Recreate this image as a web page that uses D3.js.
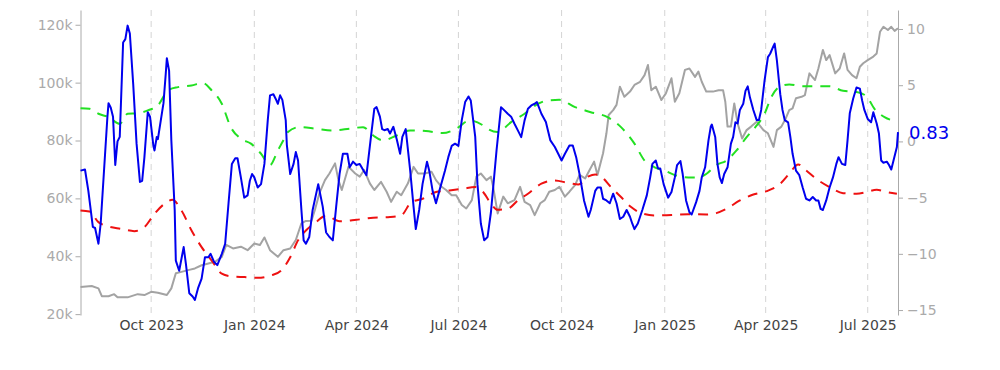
<!DOCTYPE html>
<html>
<head>
<meta charset="utf-8">
<script src="https://cdn.jsdelivr.net/npm/d3@7"></script>
<style>
  body { margin: 0; background: #fff; }
  svg text { font-family: "DejaVu Sans", Verdana, sans-serif; }
</style>
</head>
<body>
<div id="chart"></div>
<script>
// BTC price (left axis)
const priceSeries = [
  ["2023-07-30",29400],["2023-08-09",29700],["2023-08-15",28900],["2023-08-18",26200],["2023-08-24",26200],["2023-08-29",26900],["2023-09-01",25800],["2023-09-10",25800],["2023-09-19",26900],["2023-09-25",26600],["2023-10-01",27700],["2023-10-07",27400],["2023-10-15",26600],["2023-10-19",28900],["2023-10-23",34100],["2023-10-28",34600],["2023-11-03",35200],["2023-11-09",35800],["2023-11-15",36900],["2023-11-21",37500],["2023-11-27",38100],["2023-12-03",39800],["2023-12-07",43900],["2023-12-13",42700],["2023-12-20",43300],["2023-12-26",42100],
  ["2024-01-01",44400],["2024-01-06",43900],["2024-01-10",46500],["2024-01-15",42100],["2024-01-22",39800],["2024-01-27",42100],["2024-02-02",42700],["2024-02-07",45600],["2024-02-12",51400],["2024-02-16",52200],["2024-02-21",52300],["2024-02-24",56000],["2024-02-28",61700],["2024-03-04",66300],["2024-03-08",68600],["2024-03-13",72100],["2024-03-16",66300],["2024-03-19",62900],["2024-03-25",70900],["2024-03-31",68600],["2024-04-04",67500],["2024-04-08",69800],["2024-04-13",65200],["2024-04-17",62900],["2024-04-23",65700],["2024-04-28",62300],["2024-05-02",58800],["2024-05-07",62300],["2024-05-11",61100],["2024-05-17",65200],["2024-05-22",70900],["2024-05-26",68600],["2024-06-01",68600],["2024-06-07",69200],["2024-06-11",66300],["2024-06-16",64000],["2024-06-20",62900],["2024-06-25",61100],["2024-06-29",61100],["2024-07-04",57700],["2024-07-08",56500],["2024-07-13",59400],["2024-07-17",67500],["2024-07-21",68600],["2024-07-26",66300],["2024-07-30",67500],
  ["2024-08-01",64000],["2024-08-05",54800],["2024-08-10",60600],["2024-08-14",58300],["2024-08-20",59400],["2024-08-25",64000],["2024-08-29",58800],["2024-09-03",57700],["2024-09-07",54200],["2024-09-12",58300],["2024-09-16",59400],["2024-09-20",62300],["2024-09-25",62900],["2024-09-29",64000],["2024-10-04",60600],["2024-10-08",62300],["2024-10-13",64600],["2024-10-17",68100],["2024-10-22",66900],["2024-10-26",69800],["2024-10-30",72700],["2024-11-02",68100],["2024-11-07",75600],["2024-11-10",82500],["2024-11-12",88800],["2024-11-16",90500],["2024-11-19",92300],["2024-11-22",98600],["2024-11-26",95100],["2024-12-01",96900],["2024-12-05",99200],["2024-12-10",100300],["2024-12-14",102600],["2024-12-17",106100],["2024-12-20",97400],["2024-12-24",98600],["2024-12-29",94000],
  ["2025-01-02",96300],["2025-01-07",101500],["2025-01-10",93400],["2025-01-14",96300],["2025-01-19",104400],["2025-01-23",104900],["2025-01-28",102000],["2025-01-31",103800],["2025-02-03",100300],["2025-02-07",96900],["2025-02-13",96900],["2025-02-18",97400],["2025-02-22",97400],["2025-02-24",93400],["2025-02-26",84800],["2025-03-01",84800],["2025-03-04",92800],["2025-03-07",85900],["2025-03-11",80700],["2025-03-15",83600],["2025-03-19",84800],["2025-03-24",86500],["2025-03-30",83600],["2025-04-03",82500],["2025-04-08",77800],["2025-04-11",83600],["2025-04-15",84800],["2025-04-19",87700],["2025-04-22",90500],["2025-04-25",91100],["2025-04-28",94600],["2025-05-03",95100],["2025-05-06",95700],["2025-05-10",103200],["2025-05-15",100900],["2025-05-18",104900],["2025-05-22",111300],["2025-05-25",107800],["2025-05-28",109500],["2025-06-02",103200],["2025-06-06",104900],["2025-06-10",110100],["2025-06-13",104400],["2025-06-17",102600],["2025-06-21",101500],["2025-06-24",105500],["2025-06-27",106700],["2025-07-01",107800],["2025-07-06",109000],["2025-07-09",110100],["2025-07-12",117600],["2025-07-15",119300],["2025-07-19",118200],["2025-07-22",119300],["2025-07-25",117900],["2025-07-28",118800]
];

// oscillator (right axis)
const oscSeries = [
  ["2023-07-30",-2.6],["2023-08-03",-2.5],["2023-08-06",-4.4],["2023-08-10",-7.6],["2023-08-12",-7.7],["2023-08-15",-9.1],["2023-08-17",-7.3],["2023-08-23",2.2],["2023-08-24",3.4],["2023-08-26",3.0],["2023-08-28",2.2],["2023-08-30",-2.1],["2023-09-01",0.0],["2023-09-03",0.4],["2023-09-06",8.8],["2023-09-08",9.1],["2023-09-10",10.3],["2023-09-12",9.6],["2023-09-15",5.1],["2023-09-18",-0.2],["2023-09-21",-3.6],["2023-09-23",-3.5],["2023-09-25",-1.4],["2023-09-28",2.6],["2023-09-30",2.2],
  ["2023-10-03",-0.4],["2023-10-04",-0.8],["2023-10-06",0.4],["2023-10-07",0.2],["2023-10-12",3.4],["2023-10-14",6.0],["2023-10-15",7.4],["2023-10-17",6.3],["2023-10-19",0.1],["2023-10-22",-6.1],["2023-10-23",-10.6],["2023-10-26",-11.5],["2023-10-30",-9.4],["2023-11-01",-10.9],["2023-11-04",-13.5],["2023-11-07",-13.8],["2023-11-09",-14.1],["2023-11-12",-13.0],["2023-11-15",-12.2],["2023-11-18",-10.3],["2023-11-21",-10.3],["2023-11-23",-10.0],["2023-11-26",-10.7],["2023-11-29",-11.0],["2023-12-03",-10.0],["2023-12-06",-9.1],["2023-12-09",-5.5],["2023-12-12",-2.0],["2023-12-15",-1.5],["2023-12-17",-1.5],["2023-12-20",-3.2],["2023-12-23",-5.0],["2023-12-26",-4.8],["2023-12-28",-3.5],["2023-12-30",-2.9],
  ["2024-01-01",-3.2],["2024-01-04",-4.1],["2024-01-07",-3.8],["2024-01-10",-2.0],["2024-01-13",1.9],["2024-01-15",4.1],["2024-01-18",4.2],["2024-01-20",3.8],["2024-01-22",3.35],["2024-01-24",4.1],["2024-01-26",3.7],["2024-01-29",1.9],["2024-01-30",-0.3],["2024-02-02",-2.9],["2024-02-05",-2.0],["2024-02-07",-0.95],["2024-02-09",-1.7],["2024-02-12",-6.1],["2024-02-14",-8.8],["2024-02-16",-9.1],["2024-02-19",-8.5],["2024-02-22",-6.1],["2024-02-27",-3.8],["2024-03-02",-5.8],["2024-03-05",-8.1],["2024-03-08",-8.5],["2024-03-11",-8.8],["2024-03-14",-5.8],["2024-03-17",-2.9],["2024-03-20",-1.1],["2024-03-24",-1.1],["2024-03-26",-2.3],["2024-03-29",-1.8],
  ["2024-04-01",-2.1],["2024-04-04",-2.0],["2024-04-08",-2.7],["2024-04-10",-3.0],["2024-04-14",0.4],["2024-04-17",2.9],["2024-04-19",3.05],["2024-04-22",2.2],["2024-04-24",1.1],["2024-04-26",1.0],["2024-04-29",1.1],["2024-05-01",0.7],["2024-05-04",1.3],["2024-05-07",0.2],["2024-05-10",-1.1],["2024-05-12",0.4],["2024-05-15",1.1],["2024-05-19",-2.6],["2024-05-22",-5.8],["2024-05-24",-7.8],["2024-05-27",-6.1],["2024-05-30",-3.8],["2024-06-03",-1.8],["2024-06-05",-2.6],["2024-06-08",-4.4],["2024-06-11",-5.5],["2024-06-14",-4.4],["2024-06-19",-2.6],["2024-06-22",-1.4],["2024-06-25",-0.4],["2024-06-28",-0.2],
  ["2024-07-01",-0.4],["2024-07-04",1.9],["2024-07-07",3.5],["2024-07-10",4.0],["2024-07-12",3.65],["2024-07-16",0.4],["2024-07-18",-3.8],["2024-07-21",-7.3],["2024-07-24",-8.8],["2024-07-27",-8.5],["2024-07-30",-6.3],["2024-08-04",-0.8],["2024-08-08",3.05],["2024-08-11",2.76],["2024-08-14",2.46],["2024-08-17",2.2],["2024-08-20",1.57],["2024-08-23",0.98],["2024-08-26",0.38],["2024-08-29",1.87],["2024-09-01",2.9],["2024-09-04",3.2],["2024-09-07",3.35],["2024-09-09",3.5],["2024-09-13",2.46],["2024-09-17",1.72],["2024-09-21",0.09],["2024-09-25",-0.5],["2024-09-28",-1.1],
  ["2024-10-01",-1.7],["2024-10-04",-1.1],["2024-10-08",-0.36],["2024-10-11",-0.36],["2024-10-14",-1.4],["2024-10-17",-2.9],["2024-10-21",-5.25],["2024-10-25",-6.7],["2024-10-27",-6.1],["2024-10-31",-4.4],["2024-11-02",-4.1],["2024-11-05",-4.1],["2024-11-07",-5.1],["2024-11-10",-5.25],["2024-11-13",-5.5],["2024-11-16",-4.65],["2024-11-19",-5.5],["2024-11-22",-6.9],["2024-11-25",-6.7],["2024-11-28",-6.1],["2024-12-01",-6.7],["2024-12-03",-7.3],["2024-12-05",-7.8],["2024-12-08",-7.3],["2024-12-12",-6.1],["2024-12-16",-4.8],["2024-12-19",-3.2],["2024-12-21",-2.0],["2024-12-24",-1.7],["2024-12-26",-2.4],["2024-12-28",-2.4],["2024-12-31",-3.8],
  ["2025-01-04",-5.0],["2025-01-07",-4.5],["2025-01-10",-3.2],["2025-01-12",-2.1],["2025-01-15",-1.75],["2025-01-17",-2.9],["2025-01-20",-5.25],["2025-01-23",-6.3],["2025-01-25",-6.5],["2025-01-29",-5.4],["2025-02-01",-4.4],["2025-02-03",-3.2],["2025-02-06",-2.3],["2025-02-09",0.1],["2025-02-11",1.3],["2025-02-12",1.5],["2025-02-15",0.4],["2025-02-17",-2.0],["2025-02-19",-3.2],["2025-02-21",-3.7],["2025-02-23",-2.9],["2025-02-26",-2.3],["2025-03-01",-0.2],["2025-03-03",0.4],["2025-03-05",1.7],["2025-03-07",1.6],["2025-03-09",2.8],["2025-03-12",3.35],["2025-03-14",4.5],["2025-03-16",4.9],["2025-03-18",3.9],["2025-03-21",2.8],["2025-03-24",1.9],["2025-03-26",1.9],["2025-03-28",2.8],["2025-03-31",5.4],
  ["2025-04-03",7.5],["2025-04-05",7.8],["2025-04-08",8.5],["2025-04-09",8.7],["2025-04-11",7.2],["2025-04-14",4.2],["2025-04-16",2.8],["2025-04-18",1.9],["2025-04-21",1.7],["2025-04-23",0.4],["2025-04-25",-1.1],["2025-04-28",-2.6],["2025-05-01",-3.0],["2025-05-04",-4.1],["2025-05-07",-5.1],["2025-05-10",-5.25],["2025-05-13",-4.95],["2025-05-16",-5.25],["2025-05-18",-5.25],["2025-05-20",-6.0],["2025-05-22",-6.1],["2025-05-25",-5.25],["2025-05-28",-4.1],["2025-05-31",-3.2],["2025-06-03",-2.0],["2025-06-05",-1.4],["2025-06-08",-2.0],["2025-06-11",-2.1],["2025-06-13",0.1],["2025-06-15",2.5],["2025-06-18",3.8],["2025-06-21",4.8],["2025-06-24",4.7],["2025-06-26",3.65],["2025-06-28",2.8],
  ["2025-07-01",2.0],["2025-07-04",1.7],["2025-07-06",2.6],["2025-07-09",1.6],["2025-07-11",0.7],["2025-07-13",-1.7],["2025-07-15",-1.9],["2025-07-18",-1.8],["2025-07-20",-2.1],["2025-07-22",-2.5],["2025-07-24",-1.7],["2025-07-27",-0.5],["2025-07-28",0.83]
];

// upper band (green dashed, right axis)
const upperBand = [
  ["2023-07-30",2.96],["2023-08-07",2.9],["2023-08-15",2.46],["2023-08-24",2.16],["2023-09-03",1.57],["2023-09-10",2.46],["2023-09-19",2.5],["2023-09-28",2.76],["2023-10-07",3.2],["2023-10-16",4.54],["2023-10-25",4.83],["2023-11-06",4.98],["2023-11-16",5.19],["2023-11-24",4.54],["2023-12-03",3.35],["2023-12-11",1.27],["2023-12-20",0.24],["2023-12-29",-0.2],
  ["2024-01-07",-1.1],["2024-01-15",-2.1],["2024-01-22",-0.8],["2024-01-28",0.3],["2024-01-31",0.83],["2024-02-10",1.27],["2024-02-25",1.13],["2024-03-11",0.98],["2024-03-26",1.13],["2024-04-07",1.27],["2024-04-16",0.53],["2024-04-25",0.09],["2024-05-07",0.53],["2024-05-19",0.98],["2024-06-02",0.92],["2024-06-17",0.74],["2024-06-29",1.13],["2024-07-11",1.87],["2024-07-23",1.42],["2024-07-27",1.13],["2024-08-05",0.83],["2024-08-17",1.72],["2024-08-29",2.46],["2024-09-10",3.35],["2024-09-19",3.65],["2024-09-29",3.7],["2024-10-13",3.05],["2024-10-27",2.6],["2024-11-11",2.16],["2024-11-23",1.27],["2024-12-05",-0.2],["2024-12-14",-1.7],["2024-12-23",-2.3],
  ["2025-01-01",-2.6],["2025-01-10",-3.0],["2025-01-22",-3.2],["2025-01-31",-3.2],["2025-02-07",-2.9],["2025-02-16",-2.1],["2025-02-25",-1.7],["2025-03-06",-0.8],["2025-03-15",0.38],["2025-03-24",1.42],["2025-03-31",2.46],["2025-04-06",3.94],["2025-04-14",4.9],["2025-04-22",5.07],["2025-05-04",4.9],["2025-05-16",4.9],["2025-05-28",4.9],["2025-06-09",4.5],["2025-06-21",4.4],["2025-06-30",4.0],["2025-07-07",2.9],["2025-07-16",2.16],["2025-07-27",1.8]
];

// lower band (red dashed, right axis)
const lowerBand = [
  ["2023-07-30",-6.14],["2023-08-07",-6.23],["2023-08-15",-7.18],["2023-08-24",-7.56],["2023-09-04",-7.77],["2023-09-16",-7.98],["2023-09-25",-7.62],["2023-10-04",-6.43],["2023-10-13",-5.54],["2023-10-20",-5.19],["2023-10-28",-6.14],["2023-11-06",-7.92],["2023-11-15",-9.4],["2023-11-24",-10.6],["2023-12-03",-11.77],["2023-12-11",-12.0],["2023-12-23",-12.07],
  ["2024-01-04",-12.13],["2024-01-16",-11.92],["2024-01-25",-11.48],["2024-02-02",-10.3],["2024-02-09",-8.8],["2024-02-16",-7.92],["2024-02-25",-7.18],["2024-03-05",-6.6],["2024-03-17",-7.1],["2024-04-01",-6.97],["2024-04-16",-6.79],["2024-05-01",-6.73],["2024-05-11",-6.58],["2024-05-20",-5.4],["2024-05-30",-5.1],["2024-06-11",-4.5],["2024-06-23",-4.36],["2024-07-05",-4.21],["2024-07-16",-4.06],["2024-07-23",-4.5],["2024-07-30",-5.54],["2024-08-05",-6.08],["2024-08-14",-5.99],["2024-08-23",-5.25],["2024-09-01",-4.65],["2024-09-13",-3.76],["2024-09-25",-3.47],["2024-10-07",-3.7],["2024-10-16",-3.83],["2024-10-25",-3.11],["2024-10-31",-2.94],["2024-11-05",-3.11],["2024-11-14",-4.06],["2024-11-23",-4.95],["2024-12-02",-5.84],["2024-12-11",-6.38],["2024-12-23",-6.58],
  ["2025-01-07",-6.55],["2025-01-22",-6.47],["2025-02-07",-6.5],["2025-02-16",-6.38],["2025-02-25",-6.0],["2025-03-09",-5.25],["2025-03-21",-4.72],["2025-04-02",-4.42],["2025-04-14",-3.76],["2025-04-22",-2.88],["2025-04-30",-2.05],["2025-05-07",-2.58],["2025-05-16",-3.32],["2025-05-28",-4.06],["2025-06-09",-4.6],["2025-06-21",-4.65],["2025-06-30",-4.5],["2025-07-09",-4.3],["2025-07-18",-4.5],["2025-07-27",-4.65]
];

const xTickDates = ["2023-10-01","2024-01-01","2024-04-01","2024-07-01","2024-10-01","2025-01-01","2025-04-01","2025-07-01"];
const priceTicks = [20000, 40000, 60000, 80000, 100000, 120000];
const oscTicks = [-15, -10, -5, 0, 5, 10];

const width = 1000, height = 370;
const plot = {left: 80.5, right: 898, top: 10, bottom: 315};
const fontFamily = "'DejaVu Sans', Verdana, sans-serif";

const parse = d3.timeParse("%Y-%m-%d");
const toPoints = arr => arr.map(d => ({date: parse(d[0]), value: d[1]}));
const price = toPoints(priceSeries);
const osc = toPoints(oscSeries);
const upper = toPoints(upperBand);
const lower = toPoints(lowerBand);

const svg = d3.select("#chart")
  .append("svg")
  .attr("width", width)
  .attr("height", height)
  .attr("font-family", fontFamily)
  .style("background", "#fff");

const x = d3.scaleTime()
  .domain(d3.extent(osc, d => d.date))
  .range([plot.left, plot.right]);

const yPrice = d3.scaleLinear().domain([19700, 125100]).range([plot.bottom, plot.top]);
const yOsc = d3.scaleLinear().domain([-15.44, 11.69]).range([plot.bottom, plot.top]);

// vertical dashed grid
svg.append("g")
  .selectAll("line")
  .data(xTickDates.map(parse))
  .join("line")
  .attr("x1", d => x(d)).attr("x2", d => x(d))
  .attr("y1", plot.top).attr("y2", plot.bottom)
  .attr("stroke", "#d4d4d4")
  .attr("stroke-width", 1)
  .attr("stroke-dasharray", "6,5");

// x axis (labels only)
const gX = svg.append("g")
  .attr("transform", `translate(0,${plot.bottom})`)
  .call(d3.axisBottom(x)
    .tickValues(xTickDates.map(parse))
    .tickFormat(d3.timeFormat("%b %Y"))
    .tickSize(0)
    .tickPadding(5))
  .attr("font-family", fontFamily)
  .attr("font-size", 14);
gX.select(".domain").remove();
gX.selectAll("text").attr("fill", "#444");

// left axis (price)
const gL = svg.append("g")
  .attr("transform", `translate(${plot.left},0)`)
  .call(d3.axisLeft(yPrice)
    .tickValues(priceTicks)
    .tickFormat(d => d / 1000 + "k")
    .tickSize(5).tickSizeOuter(0).tickPadding(3))
  .attr("font-family", fontFamily)
  .attr("font-size", 14);
gL.selectAll(".domain, line").attr("stroke", "#aaa");
gL.selectAll("text").attr("fill", "#aaa");

// right axis (oscillator)
const gR = svg.append("g")
  .attr("transform", `translate(${plot.right},0)`)
  .call(d3.axisRight(yOsc)
    .tickValues(oscTicks)
    .tickSize(5).tickSizeOuter(0).tickPadding(4))
  .attr("font-family", fontFamily)
  .attr("font-size", 14);
gR.selectAll(".domain, line").attr("stroke", "#aaa");
gR.selectAll("text").attr("fill", "#aaa");

const priceLine = d3.line().x(d => x(d.date)).y(d => yPrice(d.value));
const oscLine = d3.line().x(d => x(d.date)).y(d => yOsc(d.value));
const bandLine = d3.line().x(d => x(d.date)).y(d => yOsc(d.value)).curve(d3.curveMonotoneX);

svg.append("path").datum(price)
  .attr("fill", "none").attr("stroke", "#a3a3a3").attr("stroke-width", 2)
  .attr("stroke-linejoin", "round").attr("d", priceLine);

svg.append("path").datum(upper)
  .attr("fill", "none").attr("stroke", "#22e022").attr("stroke-width", 2)
  .attr("stroke-dasharray", "10,8").attr("d", bandLine);

svg.append("path").datum(lower)
  .attr("fill", "none").attr("stroke", "#ee1111").attr("stroke-width", 2)
  .attr("stroke-dasharray", "10,8").attr("d", bandLine);

svg.append("path").datum(osc)
  .attr("fill", "none").attr("stroke", "#0000ee").attr("stroke-width", 2)
  .attr("stroke-linejoin", "round").attr("d", oscLine);

// latest value label
const last = osc[osc.length - 1];
svg.append("text")
  .attr("x", plot.right + 11)
  .attr("y", yOsc(last.value))
  .attr("dy", "0.4em")
  .attr("fill", "#0000ee")
  .attr("font-size", 18)
  .text(last.value.toFixed(2));
</script>
</body>
</html>
